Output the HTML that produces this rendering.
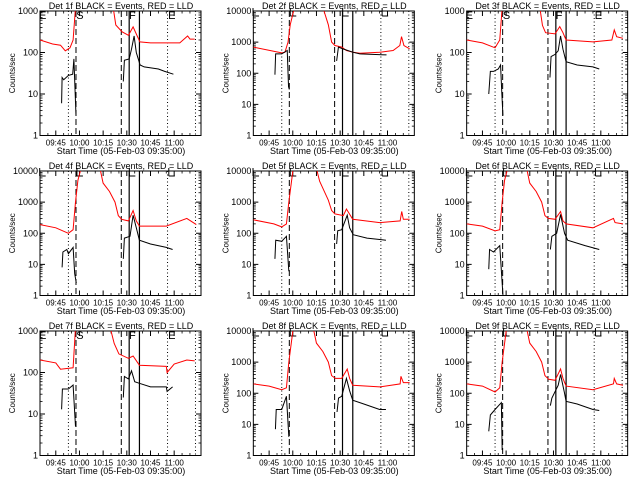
<!DOCTYPE html>
<html><head><meta charset="utf-8"><style>
html,body{margin:0;padding:0;background:#fff;}
svg{display:block;}
text{font-family:"Liberation Sans",sans-serif;fill:#000;}
</style></head><body>
<svg id="chart" width="640" height="480" viewBox="0 0 640 480" xmlns="http://www.w3.org/2000/svg"></svg>
<script>
// Data (time in minutes since 09:35, values in counts/sec; NaN = gap)
const detectors = ["1f","2f","3f","4f","5f","6f","7f","8f","9f"];
const yDecades = [3,4,3,4,4,4,3,4,4];
const xTickTimes = [10,25,40,55,70,85];
const xTickLabels = ["09:45","10:00","10:15","10:30","10:45","11:00"];
const markerTimes = [18,22.8,51.5,56.5,63,80.8,98.5];
const markerStyles = ["dot","dash","dash","solid","solid","dot","dot"];
const markerLetters = ["E","S","F","E"];
const markerLetterTimes = [1.7,25.3,58.5,83.5];

const redT1 = [0,8,13,16,19,21,22.5,23,NaN,46.4,48,52,56,59,63.3,70,88.6,93.5,95,98];
const redV1 = [200,160,150,110,130,200,1200,1500,NaN,1200,460,316,260,415,180,170,170,250,210,210];
const blkT1 = [13.7,14,15,18,20.7,21.5,22.3,22.8,NaN,52.8,53.5,56.5,58,59.6,61,63.4,66,75,79,84.5];
const blkV1 = [6,25,22,28,30,70,10,3,NaN,20,65,70,120,250,100,50,45,40,35,30];

const redT2 = [0,13.7,18,20,22,23.4,25.3,26.4,NaN,44.3,47.5,49.6,51.7,56,59,63.3,67.5,80,88.6,92.8,93.9,95.4,99];
const redV2 = [690,500,450,470,1000,3600,9000,12000,NaN,12000,3600,1000,780,690,540,470,440,470,540,780,1500,780,610];
const blkT2 = [13.7,14.1,18,21.5,22.3,22.8,NaN,52.8,53.9,57,63.3,67.5,84.4];
const blkV2 = [90,420,420,540,37,30,NaN,250,690,600,470,420,390];

const redT3 = [0,10,18,21,22.5,23,NaN,46.4,48,50,56,59,61,63,80,92,93.5,95,99];
const redV3 = [200,170,130,200,1200,1500,NaN,1200,450,300,280,420,300,200,180,200,350,240,220];
const blkT3 = [14,15,17,20,21.5,22.3,23,NaN,52.8,53.5,56,58,59.5,61,63,70,80,84];
const blkV3 = [10,35,35,40,50,10,3,NaN,25,80,90,110,250,120,60,50,45,40];

const redT4 = [0,10,18,21,22.5,24,26,38,40,44,47.5,49.6,51.7,56,59,61,63,80,93,99];
const redV4 = [190,150,100,130,1000,5000,12000,12000,4100,2200,1000,370,280,250,540,250,170,170,300,190];
const blkT4 = [14,14.5,17,18,21,22,23,NaN,52.8,53.5,57,59,61,63,70,80,84];
const blkV4 = [8,25,30,22,35,5,2.5,NaN,15,70,80,380,150,60,45,35,30];

const redT5 = [0,13,18,21,22.5,25,26,40,42,44,47.5,49.6,51.7,57,59,63,80,93,94,95,99];
const redV5 = [270,200,160,200,1000,10000,12000,12000,4700,2800,1150,540,420,370,600,280,220,250,500,280,280];
const blkT5 = [13.7,14.2,18,21,22.5,NaN,52.8,53.5,56,59.5,61,63.3,72,84];
const blkV5 = [15,60,55,80,6,NaN,45,120,130,380,150,90,70,60];

const redT6 = [0,10,18,21,22.5,24,26,38,40,44,47.5,49.6,51.7,56,59.5,61,63,80,93,94,99];
const redV6 = [200,170,120,130,1000,5000,12000,12000,4100,2200,1000,370,300,280,500,250,200,150,300,220,200];
const blkT6 = [14,14.5,17,21,23,NaN,53,54,57,59.5,62,64,75,84];
const blkV6 = [7,30,25,40,1,NaN,30,80,100,400,100,60,40,30];

const redT7 = [0,10,13,21,22.5,23,NaN,44.5,47,50,56,59,63,80,80.5,85,93,98];
const redV7 = [200,170,120,130,1200,1500,NaN,1200,500,280,220,250,150,140,100,160,200,190];
const blkT7 = [13.7,14.2,18,21,22.5,NaN,52.8,53.5,56,58,60,63,70,80,80.5,84];
const blkV7 = [13,40,40,50,5,NaN,25,80,70,110,60,55,45,45,35,45];

const redT8 = [0,10,18,21,22.5,25,26,38,40,44,47.5,49.6,52,56,59.5,61,63,80,93,93.5,95,99];
const redV8 = [200,170,130,150,1000,10000,12000,12000,4100,2200,1000,370,300,300,600,300,180,160,200,350,220,220];
const blkT8 = [14,14.5,18,21,22.5,NaN,53,54,56,59,61,63,70,80,84];
const blkV8 = [7,30,30,80,4,NaN,25,70,80,300,120,60,45,30,30];

const redT9 = [0,10,18,21,22.5,25,26,38,40,44,47.5,49.6,52,56,59.5,61,63,80,93,93.5,95,99];
const redV9 = [200,170,110,150,1000,10000,12000,12000,4100,2200,1000,370,280,260,600,300,170,130,200,300,200,180];
const blkT9 = [14,15,18,22,22.5,NaN,53,54,58,59.5,62,63,70,80,84];
const blkV9 = [6,20,30,50,1.5,NaN,40,70,180,400,100,55,45,30,28];

const redTimes = [redT1,redT2,redT3,redT4,redT5,redT6,redT7,redT8,redT9];
const redVals = [redV1,redV2,redV3,redV4,redV5,redV6,redV7,redV8,redV9];
const blkTimes = [blkT1,blkT2,blkT3,blkT4,blkT5,blkT6,blkT7,blkT8,blkT9];
const blkVals = [blkV1,blkV2,blkV3,blkV4,blkV5,blkV6,blkV7,blkV8,blkV9];

const NS = "http://www.w3.org/2000/svg";
const svg = document.getElementById("chart");
function mk(tag, parent, attrs){ const e=document.createElementNS(NS,tag); for(const k in attrs) e.setAttribute(k,attrs[k]); parent.appendChild(e); return e; }

const BL=40, BR=201, BT=11, BB=135.5, TMAX=102;
detectors.forEach((det,i)=>{
  const col=i%3, row=Math.floor(i/3);
  const g=mk("g",svg,{transform:`translate(${(col*213.33).toFixed(2)},${row*160})`});
  
  
  const dec=yDecades[i];
  const xs=t=>BL+(t/TMAX)*(BR-BL);
  const ys=v=>BB-(Math.log10(v)/dec)*(BB-BT);
  const clip="clip"+i;
  const cp=mk("clipPath",g,{id:clip}); mk("rect",cp,{x:BL,y:BT,width:BR-BL,height:BB-BT});
  const title=mk("text",g,{x:121,y:9,"text-anchor":"middle","font-size":"9"});
  title.textContent=`Det ${det} BLACK = Events, RED = LLD`;
  
  
  const fr=mk("rect",g,{x:BL,y:BT,width:BR-BL,height:BB-BT,fill:"none",stroke:"#000","stroke-width":"1"});
  
  
  for(let d=0; d<=dec; d++){
    const y=ys(Math.pow(10,d));
    mk("line",g,{x1:BL,x2:BL+5,y1:y,y2:y,stroke:"#000"});
    mk("line",g,{x1:BR-5,x2:BR,y1:y,y2:y,stroke:"#000"});
    const lb=mk("text",g,{x:BL-2,y:y+3,"text-anchor":"end","font-size":"9"});
    lb.textContent=String(Math.pow(10,d));
    
    
    if(d<dec){ for(let m=2;m<10;m++){ const ym=ys(m*Math.pow(10,d));
      mk("line",g,{x1:BL,x2:BL+2.5,y1:ym,y2:ym,stroke:"#000","stroke-width":"0.8"});
      mk("line",g,{x1:BR-2.5,x2:BR,y1:ym,y2:ym,stroke:"#000","stroke-width":"0.8"}); } }
  }
  xTickTimes.forEach((t,k)=>{
    const x=xs(t);
    mk("line",g,{x1:x,x2:x,y1:BB,y2:BB-5,stroke:"#000"});
    mk("line",g,{x1:x,x2:x,y1:BT,y2:BT+5,stroke:"#000"});
    const lb=mk("text",g,{x:x,y:BB+10,"text-anchor":"middle","font-size":"8"});
    lb.textContent=xTickLabels[k];
    
    
  });
  for(let t=5;t<TMAX;t+=5){ if(t%15===10) continue; const x=xs(t);
    mk("line",g,{x1:x,x2:x,y1:BB,y2:BB-2.5,stroke:"#000","stroke-width":"0.8"});
    mk("line",g,{x1:x,x2:x,y1:BT,y2:BT+2.5,stroke:"#000","stroke-width":"0.8"}); }
  const xt=mk("text",g,{x:121,y:154,"text-anchor":"middle","font-size":"9"});
  xt.textContent="Start Time (05-Feb-03 09:35:00)";
  
  
  const yt=mk("text",g,{x:0,y:0,"text-anchor":"middle","font-size":"8",transform:`translate(15,${(BT+BB)/2}) rotate(-90)`});
  yt.textContent="Counts/sec";
  
  
  markerTimes.forEach((t,k)=>{
    const x=xs(t); const st=markerStyles[k];
    const ln=mk("line",g,{x1:x,x2:x,y1:BT,y2:BB,stroke:"#000","stroke-width":st==="solid"?1.2:1,"stroke-dasharray":st==="dot"?"1,2.5":(st==="dash"?"6,3":"none")});
    
    
  });
  markerLetterTimes.forEach((t,k)=>{
    const x=xs(t);
    if(dec===3){
      const lt=mk("text",g,{x:x,y:BT+8,"text-anchor":"middle","font-size":"11"});
      lt.textContent=markerLetters[k];
      
      
    } else {
      const br=mk("path",g,{d:`M${x-3},${BT+5} L${x-3},${BT-3} M${x-3},${BT+5} L${x+3},${BT+5}`,stroke:"#000",fill:"none"});
      
      
    }
  });
  function series(T,V,color,name){
    let d="", pen=false;
    for(let j=0;j<T.length;j++){
      if(isNaN(T[j])||isNaN(V[j])){pen=false;continue;}
      d+=(pen?"L":"M")+xs(T[j]).toFixed(1)+","+ys(V[j]).toFixed(1); pen=true;
    }
    const p=mk("path",g,{d:d,fill:"none",stroke:color,"stroke-width":"1","clip-path":`url(#${clip})`});
    
    
  }
  series(redTimes[i],redVals[i],"#ff0000","lld-series-red");
  series(blkTimes[i],blkVals[i],"#000000","events-series-black");
});
</script>
</body></html>
